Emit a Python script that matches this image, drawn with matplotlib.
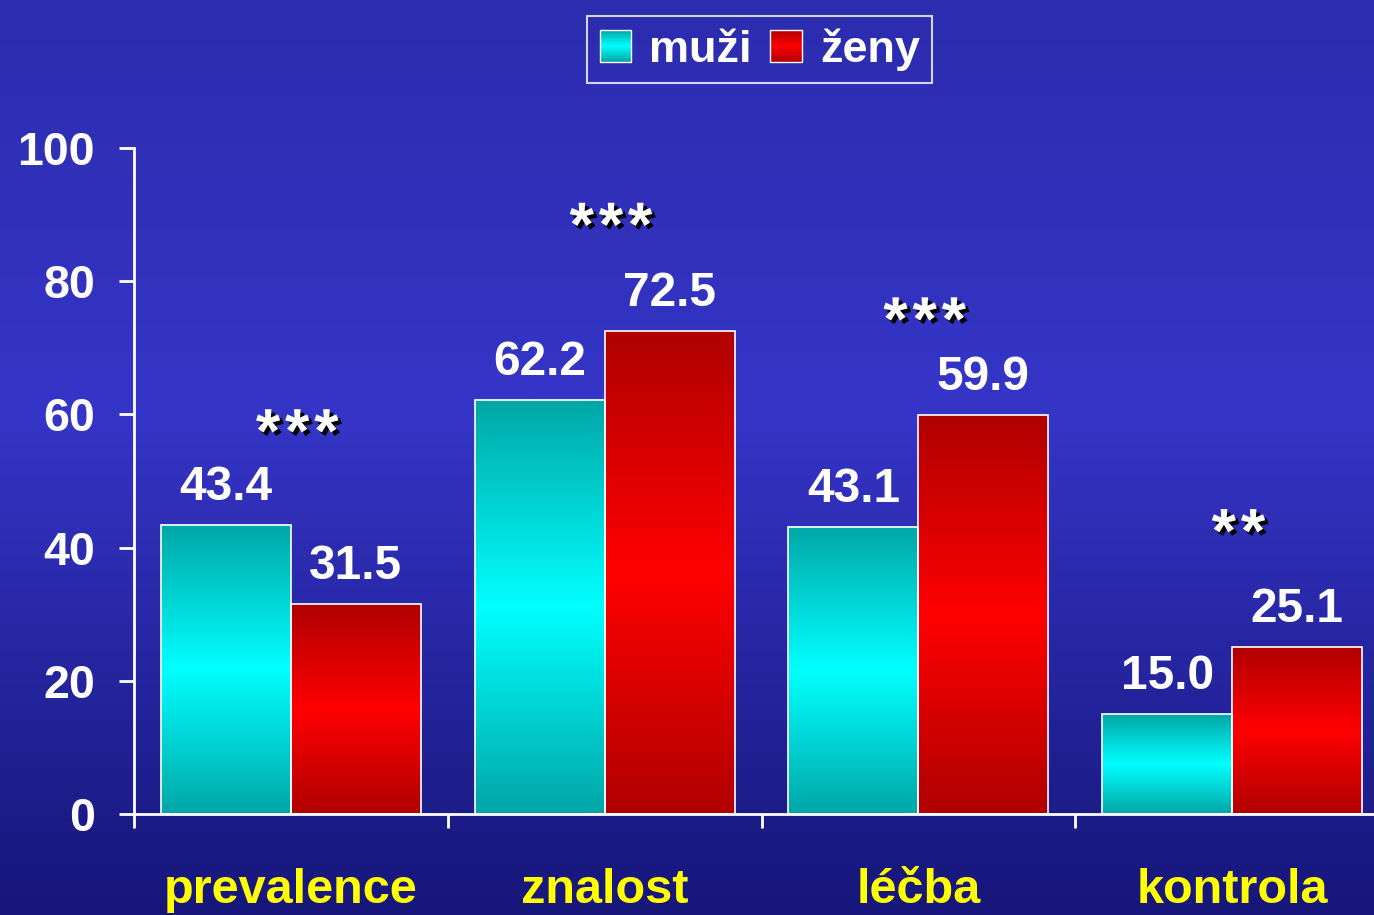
import numpy as np
import matplotlib
matplotlib.use("Agg")
import matplotlib.pyplot as plt
import matplotlib.patheffects as pe
from matplotlib.colors import LinearSegmentedColormap
from matplotlib.patches import Rectangle
from matplotlib.legend_handler import HandlerBase

plt.rcParams['font.family'] = ['Liberation Sans', 'DejaVu Sans']
plt.rcParams['font.weight'] = 'bold'

categories = ["prevalence", "znalost", "léčba", "kontrola"]
muzi = [43.4, 62.2, 43.1, 15.0]
zeny = [31.5, 72.5, 59.9, 25.1]
stars = ["***", "***", "***", "**"]
star_level = [56.8, 87.8, 73.6, 41.8]

cyan_cm = LinearSegmentedColormap.from_list("cy", ["#00a6a6", "#00ffff", "#00a6a6"])
red_cm = LinearSegmentedColormap.from_list("rd", ["#b00000", "#ff0000", "#b00000"])
bg_cm = LinearSegmentedColormap.from_list(
    "bg", [(0, "#16167a"), (0.55, "#3535c8"), (1, "#2c2cae")])


class GradHandler(HandlerBase):
    def __init__(self, cmap):
        super().__init__()
        self.cmap = cmap

    def create_artists(self, legend, orig_handle, xdescent, ydescent,
                       width, height, fontsize, trans):
        arts = []
        n = 24
        for i in range(n):
            arts.append(Rectangle((-xdescent, -ydescent + height * i / n), width,
                                  height / n * 1.05, facecolor=self.cmap((i + 0.5) / n),
                                  edgecolor='none', transform=trans))
        arts.append(Rectangle((-xdescent, -ydescent), width, height, facecolor='none',
                              edgecolor='white', lw=1, transform=trans))
        return arts


fig = plt.figure(figsize=(13.74, 9.15), dpi=100)

# background gradient
bg = fig.add_axes([0, 0, 1, 1], zorder=-10)
bg.imshow(np.linspace(0, 1, 256).reshape(-1, 1), cmap=bg_cm, aspect='auto',
          origin='lower', extent=[0, 1, 0, 1])
bg.axis('off')

ax = fig.add_axes([134 / 1374, 101 / 915, 1255 / 1374, 666 / 915])
ax.set_facecolor('none')

x = np.arange(len(categories))
w = 0.414
grad = np.linspace(0, 1, 256).reshape(-1, 1)
b1 = ax.bar(x - w / 2, muzi, w, facecolor='none', edgecolor='white', lw=1.2, zorder=3)
b2 = ax.bar(x + w / 2, zeny, w, facecolor='none', edgecolor='white', lw=1.2, zorder=3)
for bars, cm in [(b1, cyan_cm), (b2, red_cm)]:
    for p in bars:
        x0, y0 = p.get_x(), p.get_y()
        ax.imshow(grad, cmap=cm, aspect='auto', origin='lower', zorder=2,
                  extent=[x0, x0 + p.get_width(), y0, y0 + p.get_height()])

for xi, v in zip(x - w / 2, muzi):
    ax.annotate(f"{v:.1f}", (xi, v), xytext=(0, 18), textcoords='offset points',
                ha='center', va='baseline', fontsize=34.5, color='white')
for xi, v in zip(x + w / 2, zeny):
    ax.annotate(f"{v:.1f}", (xi, v), xytext=(0, 18), textcoords='offset points',
                ha='center', va='baseline', fontsize=34.5, color='white')

# significance stars, drawn one by one with a bit of spacing
shadow = [pe.SimplePatchShadow(offset=(2.5, -2.5), shadow_rgbFace='black', alpha=1), pe.Normal()]
for xi, s, lv in zip(x, stars, star_level):
    n = len(s)
    for k in range(n):
        ax.annotate("*", (xi + 0.02, lv), xytext=((k - (n - 1) / 2) * 21, 0),
                    textcoords='offset points', ha='center', va='center',
                    fontsize=45, color='white', path_effects=shadow)

ax.set_xlim(-0.5, 3.5)
ax.set_ylim(0, 100)
for s in ['top', 'right']:
    ax.spines[s].set_visible(False)
for s in ['left', 'bottom']:
    ax.spines[s].set_color('white')
    ax.spines[s].set_linewidth(2)

ax.set_yticks([0, 20, 40, 60, 80, 100])
ax.tick_params(axis='y', colors='white', labelsize=33.5, length=11, width=2, pad=17)
ax.set_xticks([-0.5, 0.5, 1.5, 2.5])
ax.set_xticklabels([])
ax.tick_params(axis='x', which='major', colors='white', length=10, width=2)
ax.set_xticks(x, minor=True)
ax.set_xticklabels(categories, minor=True)
ax.tick_params(axis='x', which='minor', length=0, labelsize=35, labelcolor='#ffff00', pad=39)

h1 = Rectangle((0, 0), 1, 1)
h2 = Rectangle((0, 0), 1, 1)
leg = fig.legend([h1, h2], ["muži", "ženy"], loc='center', bbox_to_anchor=(0.553, 0.946),
                 ncol=2, handler_map={h1: GradHandler(cyan_cm), h2: GradHandler(red_cm)},
                 prop={'size': 32.5, 'weight': 'bold'}, labelcolor='white',
                 fancybox=False, edgecolor='white', facecolor='none', framealpha=None,
                 handlelength=0.7, handleheight=0.7, handletextpad=0.4, columnspacing=0.4,
                 borderpad=0.28, borderaxespad=0)
leg.get_frame().set_linewidth(1.5)

fig.savefig("out.png", dpi=100)
